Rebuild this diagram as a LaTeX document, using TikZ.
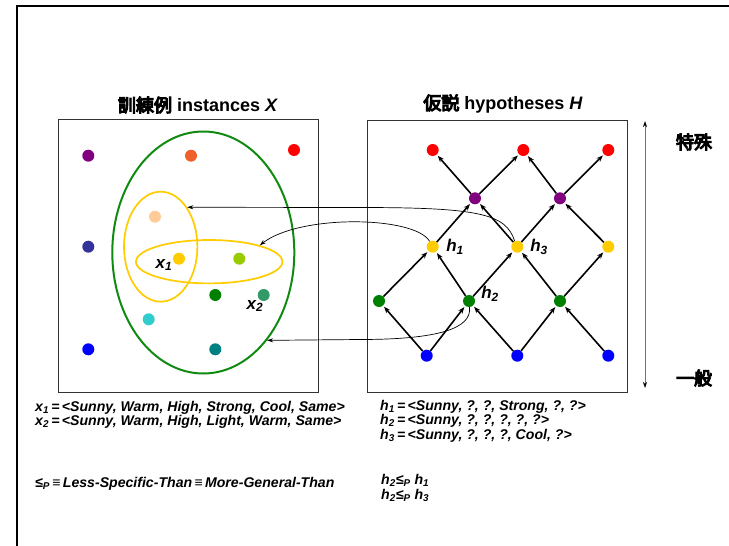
\documentclass[tikz,border=0pt]{standalone}
\usepackage{fontspec}
\setmainfont{Liberation Sans}
\newfontfamily\cjkheavy[FakeBold=6]{Noto Sans CJK JP}
\newcommand{\jp}[1]{{\mdseries\cjkheavy #1}}
\usetikzlibrary{arrows.meta,shapes.geometric}

\definecolor{cPurple}{HTML}{800080}
\definecolor{cOrange}{HTML}{F0602A}
\definecolor{cRed}{HTML}{FF0000}
\definecolor{cPeach}{HTML}{FFCC99}
\definecolor{cIndigo}{HTML}{333399}
\definecolor{cYellow}{HTML}{FFCC00}
\definecolor{cLime}{HTML}{99CC00}
\definecolor{cGreen}{HTML}{008000}
\definecolor{cSea}{HTML}{339966}
\definecolor{cCyan}{HTML}{33CCCC}
\definecolor{cBlue}{HTML}{0000FF}
\definecolor{cTeal}{HTML}{008080}
\definecolor{cEllGreen}{HTML}{118A11}

\begin{document}
\begin{tikzpicture}[x=1pt,y=-1pt,
  dot/.style={circle,inner sep=0pt,minimum size=12pt,fill=#1},
  panel/.style={draw=black!80,line width=0.9pt,inner sep=0pt},
  setring/.style={ellipse,draw=#1,line width=1.7pt,inner sep=0pt},
  lat/.style={line width=1.6pt,-{Stealth[length=6.5pt,width=5pt]},shorten >=1.5pt},
  conn/.style={line width=0.7pt,-{Stealth[length=6pt,width=4pt]}},
  title/.style={font=\bfseries\fontsize{18}{18}\selectfont,inner sep=0pt},
  lbl/.style={font=\bfseries\itshape\fontsize{17}{17}\selectfont,inner sep=0pt},
  txt/.style={font=\bfseries\itshape\fontsize{14.1}{14.1}\selectfont,anchor=base west,inner sep=0pt},
]
\useasboundingbox (0,0) rectangle (729,546);
\fill[white] (0,0) rectangle (729,546);

% outer frame (top and left edges)
\draw[line width=2.6pt] (17,546) |- (729,6);

% panels
\node[panel,minimum width=260pt,minimum height=273pt] (Xbox) at (188,255.5) {};
\node[panel,minimum width=260pt,minimum height=272pt] (Hbox) at (497,256) {};

% titles
\node[title] (Xtitle) at (198,105) {\jp{訓練例} instances \textit{X}};
\node[title] (Htitle) at (503,104) {\jp{仮説} hypotheses \textit{H}};

% instance sets
\node[setring=cEllGreen,line width=2pt,minimum width=182pt,minimum height=242pt] (ellG) at (203.3,252.5) {};
\node[setring=cYellow,minimum width=73.4pt,minimum height=110pt] (ellV) at (160.7,246.7) {};
\node[setring=cYellow,minimum width=146.4pt,minimum height=43.4pt] (ellH) at (209.2,261.7) {};

% instances
\node[dot=cPurple] (lpurple) at (88.3,155.7) {};
\node[dot=cOrange] (lorange) at (191,155.7) {};
\node[dot=cRed]    (lred)    at (294,150) {};
\node[dot=cPeach]  (lpeach)  at (155,216.7) {};
\node[dot=cIndigo] (lindigo) at (88.3,246.7) {};
\node[dot=cYellow] (lyellow) at (179,258.7) {};
\node[dot=cLime]   (llime)   at (239.3,258.7) {};
\node[dot=cGreen]  (lgreen)  at (215.3,295) {};
\node[dot=cSea]    (lsea)    at (263.7,295) {};
\node[dot=cCyan]   (lcyan)   at (148.7,319.3) {};
\node[dot=cBlue]   (lblue)   at (88.3,349.3) {};
\node[dot=cTeal]   (lteal)   at (215.3,349.3) {};

\node[lbl] (x1lbl) at (164,265) {x\textsubscript{1}};
\node[lbl] (x2lbl) at (255,306) {x\textsubscript{2}};

% hypothesis lattice
\node[dot=cRed] (r1) at (432.7,150) {};
\node[dot=cRed] (r2) at (523.3,150) {};
\node[dot=cRed] (r3) at (608.3,150) {};
\node[dot=cPurple] (p1) at (475,198.3) {};
\node[dot=cPurple] (p2) at (560,198.3) {};
\node[dot=cYellow] (y1) at (432.7,246.7) {};
\node[dot=cYellow] (y2) at (517.3,246.7) {};
\node[dot=cYellow] (y3) at (608.3,246.7) {};
\node[dot=cGreen] (g1) at (379,301) {};
\node[dot=cGreen] (g2) at (469,301) {};
\node[dot=cGreen] (g3) at (560,301) {};
\node[dot=cBlue] (b1) at (426.7,355.7) {};
\node[dot=cBlue] (b2) at (517.3,355.7) {};
\node[dot=cBlue] (b3) at (608.3,355.7) {};

\foreach \s/\t in {b1/g1,b1/g2,b2/g2,b2/g3,b3/g3,
                   g1/y1,g2/y1,g2/y2,g3/y2,g3/y3,
                   y1/p1,y2/p1,y2/p2,y3/p2,
                   p1/r1,p1/r2,p2/r2,p2/r3}
  \draw[lat] (\s) -- (\t);

\node[lbl] (h1lbl) at (455,247) {h\textsubscript{1}};
\node[lbl] (h3lbl) at (539,247) {h\textsubscript{3}};
\node[lbl] (h2lbl) at (490,294) {h\textsubscript{2}};

% hypotheses mapped to the instance sets they cover
\draw[conn] (y2.115) .. controls (506,214) and (480,207.5) .. (360,207.5) -- (ellV.56);
\draw[conn] (y1.120) .. controls (415,216) and (300,214) .. (ellH.18);
\draw[conn] (g2.-85) .. controls (472,328) and (440,339.5) .. (360,339.5) -- (ellG.-54);

% specific / general axis
\coordinate (axTop) at (645,121);
\coordinate (axBot) at (645,388);
\draw[draw=black!55,line width=0.8pt,{Stealth[black,length=6pt,width=4pt]}-{Stealth[black,length=6pt,width=4pt]}] (axBot) -- (axTop);
\node[title] (special) at (694,142) {\jp{特殊}};
\node[title] (general) at (694,378) {\jp{一般}};

% definitions
\node[txt] (xdef1) at (35,411) {x\textsubscript{1}\,=\,<Sunny, Warm, High, Strong, Cool, Same>};
\node[txt] (xdef2) at (35,425) {x\textsubscript{2}\,=\,<Sunny, Warm, High, Light, Warm, Same>};
\node[txt] (hdef1) at (380,410) {h\textsubscript{1}\,=\,<Sunny, ?, ?, Strong, ?, ?>};
\node[txt] (hdef2) at (380,424.5) {h\textsubscript{2}\,=\,<Sunny, ?, ?, ?, ?, ?>};
\node[txt] (hdef3) at (380,439) {h\textsubscript{3}\,=\,<Sunny, ?, ?, ?, Cool, ?>};
\node[txt] (order) at (35,487) {≤\textsubscript{P}\,≡\,Less-Specific-Than\,≡\,More-General-Than};
\node[txt] (rel1) at (381,484) {h\textsubscript{2}≤\textsubscript{P} h\textsubscript{1}};
\node[txt] (rel2) at (381,499) {h\textsubscript{2}≤\textsubscript{P} h\textsubscript{3}};
\end{tikzpicture}
\end{document}
